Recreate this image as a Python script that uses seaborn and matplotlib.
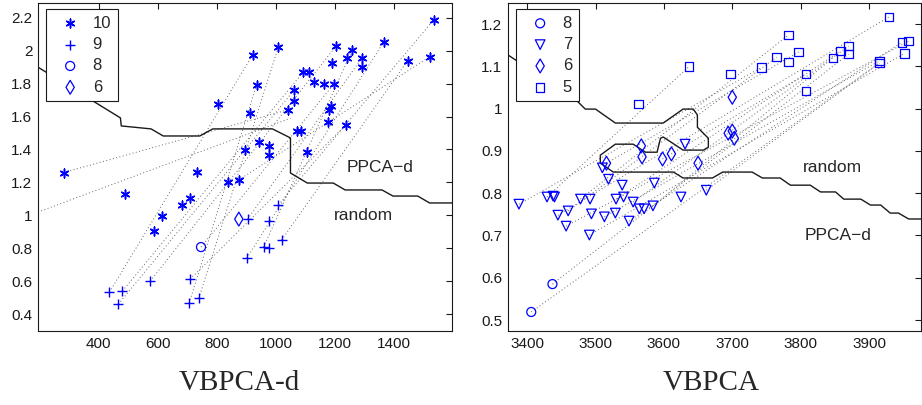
import matplotlib
matplotlib.use("Agg")
import matplotlib.pyplot as plt
import seaborn as sns

# ---- left panel (VBPCA-d) ----
l_star_x = [282, 488, 589, 615, 683, 710, 733, 804, 838, 875, 895, 912, 922, 935, 942, 976, 976, 1009, 1040, 1063,
            1063, 1073, 1087, 1094, 1107, 1114, 1131, 1164, 1178, 1181, 1188, 1191, 1198, 1205, 1238, 1241, 1259, 1292,
            1292, 1366, 1447, 1521, 1535]
l_star_y = [1.26, 1.13, 0.905, 0.996, 1.063, 1.105, 1.263, 1.677, 1.20, 1.215, 1.397, 1.622, 1.975, 1.792, 1.445, 1.42,
            1.367, 2.024, 1.64, 1.762, 1.695, 1.513, 1.513, 1.872, 1.385, 1.872, 1.81, 1.80, 1.567, 1.64, 1.665, 1.926,
            1.80, 2.03, 1.55, 1.957, 2.005, 1.957, 1.90, 2.054, 1.94, 1.963, 2.188]
l_plus_x = [437, 467, 481, 575, 707, 710, 740, 902, 905, 959, 976, 976, 1009, 1020]
l_plus_y = [0.533, 0.46, 0.54, 0.60, 0.466, 0.612, 0.497, 0.74, 0.977, 0.807, 0.80, 0.965, 1.063, 0.85]
l_circ_x = [747]
l_circ_y = [0.807]
l_diam_x = [875]
l_diam_y = [0.977]

# dotted connections: x0, y0, x1, y1
l_seg_x0 = [195, 282, 437, 740, 707, 481, 575, 467, 747, 875, 902, 1020, 1009, 905, 959, 710]
l_seg_y0 = [1.02, 1.26, 0.533, 0.497, 0.466, 0.54, 0.60, 0.46, 0.807, 1.215, 0.74, 0.85, 1.063, 0.977, 0.807, 0.612]
l_seg_x1 = [1050, 1040, 922, 1009, 935, 1094, 1205, 1063, 1198, 1521, 1366, 1447, 1535, 1292, 1259, 1238]
l_seg_y1 = [1.59, 1.64, 1.975, 2.024, 1.792, 1.872, 2.03, 1.762, 1.80, 1.963, 2.054, 1.94, 2.188, 1.957, 2.005, 1.55]

# decision boundary PPCA-d / random
l_bnd_x = [195, 474, 477, 578, 619, 743, 787, 989, 1050, 1050, 1107, 1195, 1235, 1360, 1397, 1481, 1521, 1600]
l_bnd_y = [1.90, 1.592, 1.543, 1.525, 1.482, 1.482, 1.525, 1.525, 1.47, 1.257, 1.196, 1.196, 1.154, 1.154, 1.117,
           1.117, 1.075, 1.075]

# ---- right panel (VBPCA) ----
r_circ_x = [3406, 3437]
r_circ_y = [0.519, 0.585]
r_tri_x = [3388, 3429, 3438, 3440, 3445, 3460, 3457, 3478, 3492, 3494, 3491, 3513, 3529, 3530, 3541, 3549, 3555, 3564,
           3571, 3584, 3586, 3625, 3510, 3519, 3539, 3631, 3662]
r_tri_y = [0.774, 0.791, 0.793, 0.791, 0.748, 0.758, 0.722, 0.786, 0.786, 0.751, 0.701, 0.744, 0.753, 0.786, 0.791,
           0.734, 0.779, 0.763, 0.763, 0.770, 0.824, 0.791, 0.86, 0.833, 0.819, 0.916, 0.807]
r_diam_x = [3516, 3567, 3568, 3598, 3611, 3650, 3694, 3700, 3703, 3700]
r_diam_y = [0.871, 0.912, 0.886, 0.881, 0.893, 0.871, 0.942, 0.947, 0.93, 1.027]
r_sq_x = [3563, 3637, 3697, 3743, 3765, 3782, 3782, 3797, 3808, 3808, 3847, 3858, 3870, 3870, 3929, 3915, 3915, 3948,
          3958, 3952]
r_sq_y = [1.011, 1.10, 1.082, 1.098, 1.122, 1.174, 1.11, 1.134, 1.082, 1.042, 1.12, 1.136, 1.148, 1.129, 1.217, 1.113,
          1.108, 1.157, 1.16, 1.131]

r_seg_x0 = [3406, 3437, 3388, 3445, 3457, 3491, 3549, 3513, 3429, 3478, 3516, 3530, 3598, 3584, 3662, 3460, 3555]
r_seg_y0 = [0.519, 0.585, 0.774, 0.748, 0.722, 0.701, 0.734, 0.744, 0.791, 0.786, 0.871, 0.786, 0.881, 0.770, 0.807,
            0.758, 0.779]
r_seg_x1 = [3915, 3870, 3743, 3929, 3958, 3952, 3948, 3915, 3637, 3782, 3797, 3858, 3808, 3847, 3915, 3765, 3870]
r_seg_y1 = [1.108, 1.129, 1.098, 1.217, 1.16, 1.131, 1.157, 1.113, 1.10, 1.174, 1.134, 1.136, 1.082, 1.12, 1.108,
            1.122, 1.148]

r_bnd_x = [3372, 3470, 3485, 3500, 3529, 3599, 3628, 3643, 3649, 3649, 3665, 3665, 3658, 3628, 3599, 3595, 3590, 3573,
           3555, 3529, 3507, 3507, 3526, 3614, 3628, 3671, 3686, 3729, 3744, 3770, 3785, 3814, 3829, 3851, 3863, 3888,
           3902, 3917, 3931, 3943, 3958, 3980]
r_bnd_y = [1.127, 1.023, 0.999, 0.999, 0.966, 0.966, 0.999, 0.999, 0.985, 0.956, 0.930, 0.909, 0.902, 0.902, 0.933,
           0.930, 0.897, 0.897, 0.916, 0.916, 0.890, 0.871, 0.850, 0.850, 0.836, 0.836, 0.850, 0.850, 0.836, 0.836,
           0.819, 0.819, 0.803, 0.803, 0.786, 0.786, 0.772, 0.772, 0.753, 0.753, 0.739, 0.739]

sns.set_theme(style="white")
plt.rcParams['font.family'] = ['Liberation Sans', 'DejaVu Sans']

blue = '#0000ff'
dot_style = dict(color='0.4', linestyle=(0, (1, 2.5)), linewidth=0.7, zorder=1)

fig = plt.figure(figsize=(9.22, 4.05), dpi=100)
ax1 = fig.add_axes([38 / 922, 74 / 405, 414 / 922, 328 / 405])
ax2 = fig.add_axes([508 / 922, 74 / 405, 413 / 922, 328 / 405])

# left
for x0, y0, x1, y1 in zip(l_seg_x0, l_seg_y0, l_seg_x1, l_seg_y1):
    ax1.plot([x0, x1], [y0, y1], **dot_style)
sns.lineplot(x=l_bnd_x, y=l_bnd_y, sort=False, estimator=None, color='k', linewidth=1.0, ax=ax1)
sns.scatterplot(x=l_star_x, y=l_star_y, marker=(6, 2, 0), s=40, color=blue, linewidth=1.1, label='10', ax=ax1, zorder=3)
sns.scatterplot(x=l_plus_x, y=l_plus_y, marker='+', s=55, color=blue, linewidth=1.0, label='9', ax=ax1, zorder=3)
sns.scatterplot(x=l_circ_x, y=l_circ_y, marker='o', s=42, color=blue, facecolor='none', edgecolor=blue,
                linewidth=0.9, label='8', ax=ax1, zorder=3)
sns.scatterplot(x=l_diam_x, y=l_diam_y, marker='d', s=50, color=blue, facecolor='none', edgecolor=blue,
                linewidth=0.9, label='6', ax=ax1, zorder=3)
ax1.text(1353, 1.29, 'PPCA\u2212d', fontsize=12.5, ha='center', va='center')
ax1.text(1296, 1.0, 'random', fontsize=12.5, ha='center', va='center')
ax1.set_xlim(195, 1597)
ax1.set_ylim(0.297, 2.29)
ax1.set_xticks([400, 600, 800, 1000, 1200, 1400])
ax1.set_yticks([0.4, 0.6, 0.8, 1, 1.2, 1.4, 1.6, 1.8, 2, 2.2])
ax1.set_yticklabels(['0.4', '0.6', '0.8', '1', '1.2', '1.4', '1.6', '1.8', '2', '2.2'])

# right
for x0, y0, x1, y1 in zip(r_seg_x0, r_seg_y0, r_seg_x1, r_seg_y1):
    ax2.plot([x0, x1], [y0, y1], **dot_style)
sns.lineplot(x=r_bnd_x, y=r_bnd_y, sort=False, estimator=None, color='k', linewidth=1.0, ax=ax2)
sns.scatterplot(x=r_circ_x, y=r_circ_y, marker='o', s=42, color=blue, facecolor='none', edgecolor=blue,
                linewidth=0.9, label='8', ax=ax2, zorder=3)
sns.scatterplot(x=r_tri_x, y=r_tri_y, marker='v', s=48, color=blue, facecolor='none', edgecolor=blue,
                linewidth=0.9, label='7', ax=ax2, zorder=3)
sns.scatterplot(x=r_diam_x, y=r_diam_y, marker='d', s=50, color=blue, facecolor='none', edgecolor=blue,
                linewidth=0.9, label='6', ax=ax2, zorder=3)
sns.scatterplot(x=r_sq_x, y=r_sq_y, marker='s', s=38, color=blue, facecolor='none', edgecolor=blue,
                linewidth=0.9, label='5', ax=ax2, zorder=3)
ax2.text(3846, 0.86, 'random', fontsize=12.5, ha='center', va='center')
ax2.text(3854, 0.701, 'PPCA\u2212d', fontsize=12.5, ha='center', va='center')
ax2.set_xlim(3372, 3976)
ax2.set_ylim(0.474, 1.25)
ax2.set_xticks([3400, 3500, 3600, 3700, 3800, 3900])
ax2.set_yticks([0.5, 0.6, 0.7, 0.8, 0.9, 1, 1.1, 1.2])
ax2.set_yticklabels(['0.5', '0.6', '0.7', '0.8', '0.9', '1', '1.1', '1.2'])

for ax in (ax1, ax2):
    ax.tick_params(direction='in', top=True, right=True, length=4, width=0.8,
                   labelsize=11, pad=4, colors='k')
    for sp in ax.spines.values():
        sp.set_color('k')
        sp.set_linewidth(0.8)
    ax.set_xlabel('')
    ax.set_ylabel('')
    leg = ax.legend(loc='upper left', bbox_to_anchor=(8 / 414, 1 - 6 / 328), borderaxespad=0,
                    fontsize=12, fancybox=False, framealpha=1, edgecolor='k', scatterpoints=1,
                    handlelength=2.1, handletextpad=0.3, labelspacing=0.38, borderpad=0.4)
    leg.get_frame().set_linewidth(0.8)

fig.text(239 / 922, 1 - 383 / 405, 'VBPCA-d', family=['Liberation Serif', 'DejaVu Serif'],
         fontsize=21, ha='center', va='center')
fig.text(711 / 922, 1 - 383 / 405, 'VBPCA', family=['Liberation Serif', 'DejaVu Serif'],
         fontsize=21, ha='center', va='center')

fig.savefig('out.png', dpi=100)
